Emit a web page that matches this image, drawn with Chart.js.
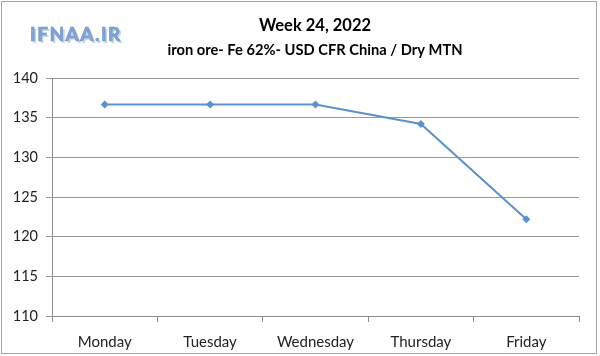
<!DOCTYPE html>
<html>
<head>
<meta charset="utf-8">
<script src="https://cdn.jsdelivr.net/npm/chart.js@4"></script>
<style>
html,body{margin:0;padding:0;background:#fff;}
#wrap{width:600px;height:356px;position:relative;}
</style>
</head>
<body>
<div id="wrap"><canvas id="c" width="600" height="356"></canvas></div>
<script>
const categories = ["Monday", "Tuesday", "Wednesday", "Thursday", "Friday"];
const prices = [136.65, 136.65, 136.65, 134.2, 122.2];
const yTicks = [110, 115, 120, 125, 130, 135, 140];
const titleText = "Week 24, 2022";
const subtitleText = "iron ore- Fe 62%- USD CFR China / Dry MTN";
const logoText = "IFNAA.IR";

const FONT = "Lato, 'Open Sans', sans-serif";

const decor = {
  id: 'decor',
  beforeDraw(chart) {
    const ctx = chart.ctx;
    ctx.save();
    ctx.fillStyle = '#fff';
    ctx.fillRect(0, 0, chart.width, chart.height);
    ctx.strokeStyle = '#a6a6a6';
    ctx.lineWidth = 1;
    ctx.strokeRect(1.5, 1.5, 595, 352);
    ctx.restore();
  },
  afterDraw(chart) {
    const ctx = chart.ctx;
    ctx.save();
    ctx.textAlign = 'center';
    ctx.textBaseline = 'middle';
    ctx.fillStyle = '#000';
    ctx.font = "bold 16.5px " + FONT;
    ctx.fillText(titleText, 315, 26);
    ctx.font = "bold 14.7px " + FONT;
    ctx.fillText(subtitleText, 315, 50);
    // logo
    ctx.textAlign = 'left';
    ctx.textBaseline = 'alphabetic';
    ctx.font = "bold 19px " + FONT;
    if ('letterSpacing' in ctx) ctx.letterSpacing = '1.5px';
    ctx.fillStyle = '#c9d3e0';
    ctx.fillText(logoText, 32, 43);
    ctx.fillStyle = '#7ea6db';
    ctx.fillText(logoText, 30, 41);
    ctx.strokeStyle = '#6d8fc0';
    ctx.lineWidth = 0.6;
    ctx.strokeText(logoText, 30, 41);
    ctx.restore();
  }
};

new Chart(document.getElementById('c'), {
  type: 'line',
  data: {
    labels: categories,
    datasets: [{
      data: prices,
      borderColor: '#5b92cb',
      backgroundColor: '#5b92cb',
      borderWidth: 2,
      pointStyle: 'rectRot',
      pointRadius: 4,
      pointBorderWidth: 0,
      tension: 0
    }]
  },
  options: {
    responsive: false,
    animation: false,
    events: [],
    layout: { padding: { top: 78, right: 21, bottom: 0, left: 0 } },
    plugins: { legend: { display: false }, tooltip: { enabled: false }, title: { display: false } },
    scales: {
      x: {
        offset: true,
        grid: { offset: true, drawOnChartArea: false, drawTicks: true, tickLength: 6, color: '#8c8c8c' },
        border: { color: '#8c8c8c' },
        ticks: { color: '#222', font: { family: FONT, size: 15 }, padding: 11, maxRotation: 0 },
        afterFit(s) { s.height = 40; }
      },
      y: {
        min: 110, max: 140,
        afterBuildTicks(s) { s.ticks = yTicks.map(v => ({ value: v })); },
        grid: { color: '#999999', tickLength: 6, drawTicks: true },
        border: { color: '#8c8c8c' },
        ticks: { color: '#222', font: { family: FONT, size: 14.5 }, padding: 8 },
        afterFit(s) { s.width = 52; }
      }
    }
  },
  plugins: [decor]
});
</script>
</body>
</html>
